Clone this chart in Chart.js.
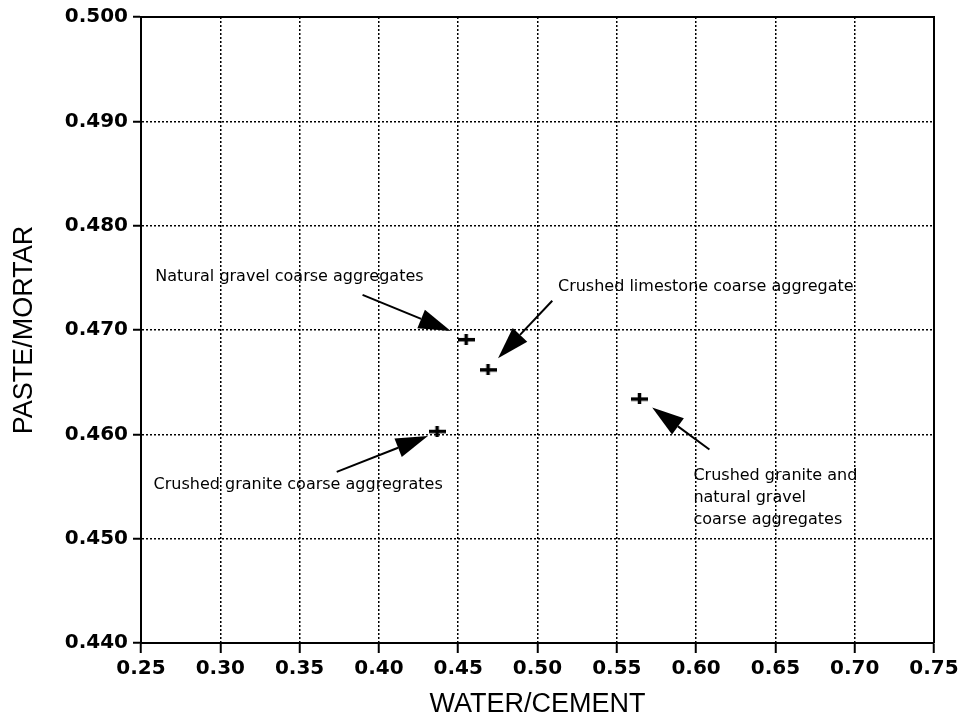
<!DOCTYPE html>
<html>
<head>
<meta charset="utf-8">
<script src="https://cdn.jsdelivr.net/npm/chart.js@4.4.1/dist/chart.umd.min.js"></script>
<style>
  html, body { margin: 0; padding: 0; background: #fff; }
  #wrap { width: 970px; height: 721px; position: relative; }
</style>
</head>
<body>
<div id="wrap"><canvas id="pmChart"></canvas></div>
<script>
// measured mixes
const waterCement = [0.455, 0.4688, 0.4367, 0.5643];
const pasteMortar = [0.4691, 0.4662, 0.4603, 0.4634];

const xTicks = [0.25, 0.30, 0.35, 0.40, 0.45, 0.50, 0.55, 0.60, 0.65, 0.70, 0.75];
const yTicks = [0.440, 0.450, 0.460, 0.470, 0.480, 0.490, 0.500];

// annotation labels (anchored in data units: left edge, middle of first line)
const noteText = [
  ["Natural gravel coarse aggregates"],
  ["Crushed limestone coarse aggregate"],
  ["Crushed granite coarse aggregrates"],
  ["Crushed granite and", "natural gravel", "coarse aggregates"]
];
const noteAt = [[0.259, 0.47508], [0.5129, 0.47412], [0.2579, 0.45513], [0.5983, 0.45599]];
// arrows: tail -> tip, data units
const arrowFrom = [[0.3897, 0.47336], [0.5093, 0.4728], [0.3734, 0.4564], [0.6084, 0.45855]];
const arrowTo = [[0.4453, 0.4699], [0.4751, 0.4673], [0.4309, 0.45983], [0.5723, 0.46258]];

// bold plus marker, wider than tall like the original
const plus = document.createElement('canvas');
plus.width = 17; plus.height = 11;
const pc = plus.getContext('2d');
pc.fillStyle = '#000';
pc.fillRect(0, 4, 17, 3.5);
pc.fillRect(6.75, 0, 3.5, 11);

const notesPlugin = {
  id: 'notes',
  afterDraw(chart) {
    const {ctx, chartArea: a, scales: {x, y}} = chart;
    ctx.save();
    // frame top + right
    ctx.strokeStyle = '#000';
    ctx.lineWidth = 2;
    ctx.beginPath();
    ctx.moveTo(a.left, a.top);
    ctx.lineTo(a.right, a.top);
    ctx.lineTo(a.right, a.bottom);
    ctx.stroke();

    // arrows
    arrowFrom.forEach((f, i) => {
      const x0 = x.getPixelForValue(f[0]), y0 = y.getPixelForValue(f[1]);
      const x1 = x.getPixelForValue(arrowTo[i][0]), y1 = y.getPixelForValue(arrowTo[i][1]);
      const ang = Math.atan2(y1 - y0, x1 - x0);
      const len = 32, hw = 10;
      const bx = x1 - len * Math.cos(ang), by = y1 - len * Math.sin(ang);
      ctx.lineWidth = 2;
      ctx.beginPath();
      ctx.moveTo(x0, y0);
      ctx.lineTo(bx, by);
      ctx.stroke();
      ctx.beginPath();
      ctx.moveTo(x1, y1);
      ctx.lineTo(bx + hw * Math.sin(ang), by - hw * Math.cos(ang));
      ctx.lineTo(bx - hw * Math.sin(ang), by + hw * Math.cos(ang));
      ctx.closePath();
      ctx.fillStyle = '#000';
      ctx.fill();
    });

    // labels
    ctx.font = '16px "DejaVu Sans"';
    ctx.fillStyle = '#000';
    ctx.textAlign = 'left';
    ctx.textBaseline = 'middle';
    noteText.forEach((lines, i) => {
      const px = x.getPixelForValue(noteAt[i][0]);
      const py = y.getPixelForValue(noteAt[i][1]);
      lines.forEach((t, j) => ctx.fillText(t, px, py + j * 22));
    });
    ctx.restore();
  }
};

const tickFont = {family: '"DejaVu Sans"', size: 20, weight: 'bold'};
const titleFont = {family: '"Liberation Sans"', size: 27, weight: 'normal'};

new Chart(document.getElementById('pmChart'), {
  type: 'scatter',
  data: {
    datasets: [{
      label: 'Paste/mortar',
      data: waterCement.map((v, i) => ({x: v, y: pasteMortar[i]})),
      pointStyle: plus,
      radius: 8
    }]
  },
  options: {
    responsive: true,
    maintainAspectRatio: false,
    animation: false,
    layout: {padding: {left: 0, right: 36, top: 17, bottom: 0}},
    plugins: {legend: {display: false}, tooltip: {enabled: false}},
    scales: {
      x: {
        type: 'linear',
        min: 0.25, max: 0.75,
        afterBuildTicks: s => { s.ticks = xTicks.map(v => ({value: v})); },
        afterFit: s => { s.height = 78; },
        ticks: {
          color: '#000', font: tickFont, padding: 4,
          maxRotation: 0, autoSkip: false,
          callback: v => v.toFixed(2)
        },
        grid: {
          color: '#000', lineWidth: 1.5,
          tickColor: '#000', tickBorderDash: [], tickLength: 10, tickWidth: 2
        },
        border: {color: '#000', width: 2, dash: [2, 2]},
        title: {display: true, text: 'WATER/CEMENT', color: '#000', font: titleFont, padding: 0}
      },
      y: {
        type: 'linear',
        min: 0.44, max: 0.5,
        afterBuildTicks: s => { s.ticks = yTicks.map(v => ({value: v})); },
        afterFit: s => { s.width = 141; },
        ticks: {
          color: '#000', font: tickFont, padding: 5, autoSkip: false,
          callback: v => v.toFixed(3)
        },
        grid: {
          color: '#000', lineWidth: 1.5,
          tickColor: '#000', tickBorderDash: [], tickLength: 8, tickWidth: 2
        },
        border: {color: '#000', width: 2, dash: [2, 2]},
        title: {display: true, text: 'PASTE/MORTAR', color: '#000', font: titleFont, padding: {top: 8, bottom: 0}}
      }
    }
  },
  plugins: [notesPlugin]
});
</script>
</body>
</html>
